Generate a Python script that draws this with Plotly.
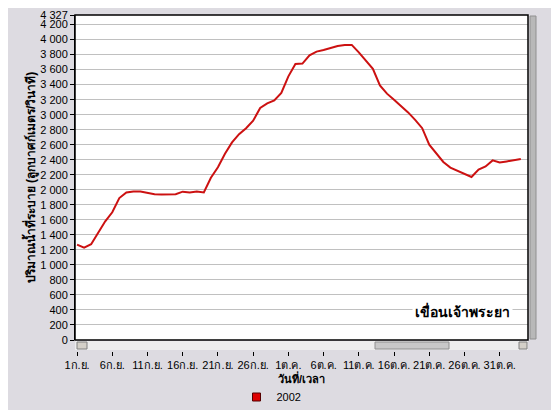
import plotly.graph_objects as go
import pandas as pd

# ---- data ----
start_date = "2002-09-01"
discharge = [1270, 1230, 1275, 1420, 1580, 1700, 1890, 1965, 1978, 1978,
             1960, 1940, 1938, 1938, 1940, 1975, 1965, 1978, 1965, 2160,
             2300, 2480, 2630, 2740, 2820, 2920, 3090, 3150, 3190, 3290,
             3510, 3676, 3680, 3790, 3840, 3860, 3890, 3915, 3929, 3929,
             3830, 3720, 3610, 3390, 3280, 3200, 3120, 3030, 2930, 2820,
             2600, 2489, 2370, 2295, 2255, 2210, 2170, 2270, 2311, 2391,
             2364, 2378, 2395, 2409]
dates = pd.date_range(start_date, periods=len(discharge), freq="D")
series_name = "2002"

x_tick_dates = ["2002-09-01", "2002-09-06", "2002-09-11", "2002-09-16", "2002-09-21",
                "2002-09-26", "2002-10-01", "2002-10-06", "2002-10-11", "2002-10-16",
                "2002-10-21", "2002-10-26", "2002-10-31"]
x_tick_text = ["1ก.ย.", "6ก.ย.", "11ก.ย.", "16ก.ย.", "21ก.ย.", "26ก.ย.",
               "1ต.ค.", "6ต.ค.", "11ต.ค.", "16ต.ค.", "21ต.ค.", "26ต.ค.", "31ต.ค."]
y_tick_vals = [0, 200, 400, 600, 800, 1000, 1200, 1400, 1600, 1800, 2000, 2200,
               2400, 2600, 2800, 3000, 3200, 3400, 3600, 3800, 4000, 4200, 4327]
y_tick_text = ["0", "200", "400", "600", "800", "1 000", "1 200", "1 400", "1 600",
               "1 800", "2 000", "2 200", "2 400", "2 600", "2 800", "3 000", "3 200",
               "3 400", "3 600", "3 800", "4 000", "4 200", "4 327"]
y_max = 4327
x_title = "วันที่/เวลา"
y_title = "ปริมาณน้ำที่ระบาย (ลูกบาศก์เมตร/วินาที)"
station = "เขื่อนเจ้าพระยา"

FONT = "Liberation Sans, Noto Sans, sans-serif"
RED = "#CC1111"
BG = "#DDDBE1"

# page body has an 8px margin: figure is sized/offset to compensate
W, H = 551, 402
def px(sx):
    return (sx - 75) / 453.0
def py(sy):
    return (410 - sy) / 395.0

fig = go.Figure()
fig.add_trace(go.Scatter(x=dates, y=discharge, mode="lines",
                         line=dict(color=RED, width=2), showlegend=False,
                         name=series_name))
fig.add_trace(go.Scatter(x=[None], y=[None], mode="markers", name=series_name,
                         marker=dict(symbol="square", color="#DD0000", size=8,
                                     line=dict(color="#550000", width=1)),
                         showlegend=True))

fig.update_layout(
    width=W, height=H,
    margin=dict(l=67, r=31, t=7, b=0, autoexpand=False),
    paper_bgcolor=BG, plot_bgcolor="white",
    font=dict(family=FONT, size=11, color="black"),
    xaxis=dict(
        type="date",
        range=["2002-08-31 17:00", "2002-11-04 00:30"],
        tickvals=x_tick_dates, ticktext=x_tick_text,
        anchor="free", position=py(351),
        showline=False, showgrid=False, zeroline=False,
        ticks="outside", ticklen=4, tickcolor="black", tickwidth=1,
        tickfont=dict(size=11), automargin=False,
        title=dict(text="<b>" + x_title + "</b>", font=dict(size=11), standoff=0),
    ),
    yaxis=dict(
        domain=[py(340), 1],
        range=[0, y_max],
        tickvals=y_tick_vals, ticktext=y_tick_text,
        showline=True, linecolor="black", linewidth=1,
        showgrid=True, gridcolor="#C0C0C0", gridwidth=1,
        zeroline=False, automargin=False,
        ticks="outside", ticklen=4, tickcolor="black",
        tickfont=dict(size=11),
        title=dict(text="<b>" + y_title + "</b>", font=dict(size=12), standoff=2),
    ),
    legend=dict(orientation="h", x=0.5 - 30 / 453.0, xanchor="center", y=py(397),
                yanchor="middle", bgcolor="rgba(0,0,0,0)", font=dict(size=11)),
    showlegend=True,
)

# plot border
fig.add_shape(type="rect", xref="x domain", yref="y domain", x0=0, x1=1, y0=0, y1=1,
              line=dict(color="black", width=1.5), fillcolor="rgba(0,0,0,0)", layer="above")

# horizontal scrollbar (decoration)
fig.add_shape(type="rect", xref="paper", yref="paper", x0=0, x1=1, y0=py(350), y1=py(341),
              line=dict(width=0), fillcolor="#EDEDED", layer="above")
fig.add_shape(type="rect", xref="paper", yref="paper", x0=px(77), x1=px(87),
              y0=py(349), y1=py(342), line=dict(color="#808080", width=1),
              fillcolor="#D4D0C8", layer="above")
fig.add_shape(type="rect", xref="paper", yref="paper", x0=px(519), x1=px(527),
              y0=py(349), y1=py(342), line=dict(color="#808080", width=1),
              fillcolor="#D4D0C8", layer="above")
fig.add_shape(type="rect", xref="paper", yref="paper", x0=px(375), x1=px(449),
              y0=py(349), y1=py(342), line=dict(color="#909090", width=1),
              fillcolor="#C8C8C8", layer="above")
# vertical scrollbar
fig.add_shape(type="rect", xref="paper", yref="paper", x0=px(530), x1=px(536),
              y0=py(339), y1=py(16), line=dict(color="#909090", width=1),
              fillcolor="#B8B8B8", layer="above")

fig.add_annotation(xref="paper", yref="y", x=px(513), y=390, xanchor="right", yanchor="middle",
                   text="<b>" + station + "</b>", showarrow=False,
                   font=dict(size=14, color="black"), bgcolor="white", borderpad=2)

fig.write_html("out.html")
